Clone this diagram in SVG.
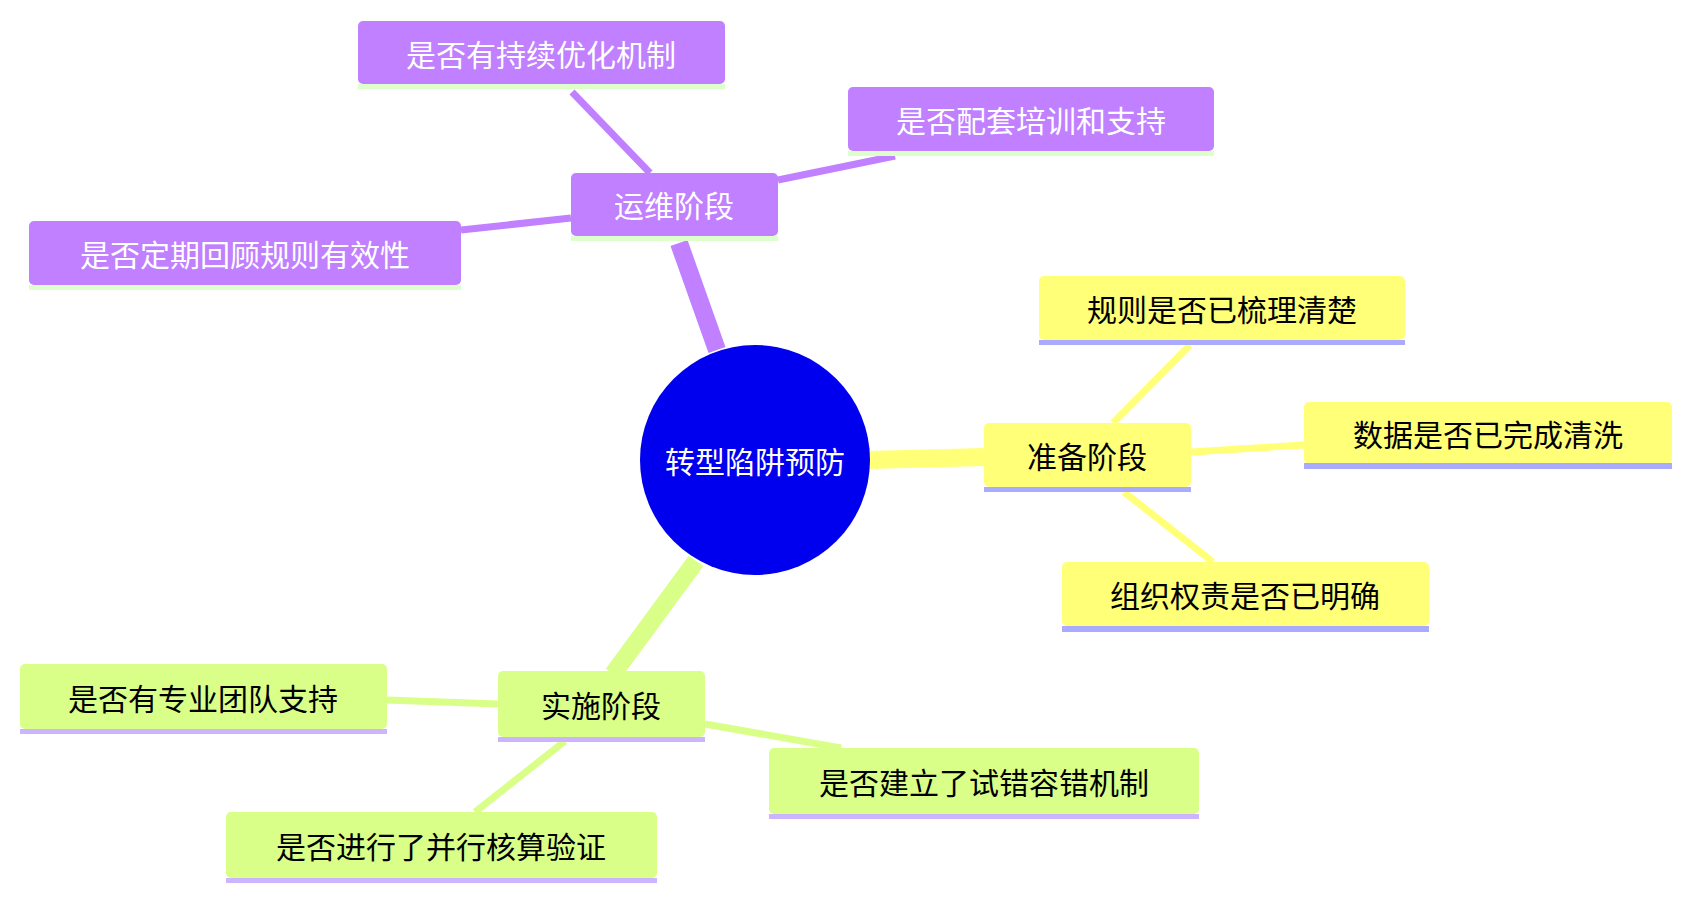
<svg xmlns="http://www.w3.org/2000/svg" width="1691" height="899" viewBox="0 0 1691 899">
<style>
text{font-family:"Noto Sans CJK SC","Noto Sans",sans-serif;font-size:30px;text-anchor:middle;dominant-baseline:central}
.y{fill:#ffff78}.p{fill:#c080ff}.g{fill:#d9ff88}
.uy{fill:#aaaaff}.up{fill:#ddffcc}.ug{fill:#ccb4ff}
.ey{stroke:#ffff78}.ep{stroke:#c080ff}.eg{stroke:#d9ff88}
.tw{fill:#fff}.tb{fill:#000}
</style>
<rect width="1691" height="899" fill="#fff"/>
<g id="connectors" fill="none" stroke-linecap="butt">
<path class="ey" d="M868,460 L984,457" stroke-width="18"/>
<path class="ep" d="M717,350 L679,243" stroke-width="18"/>
<path class="eg" d="M696,561 L613,674" stroke-width="18"/>
<g stroke-width="7">
<path class="ey" d="M1113,423 L1190,345"/>
<path class="ey" d="M1191,452 L1304,445"/>
<path class="ey" d="M1124,492 L1213,562"/>
<path class="ep" d="M650,173 L572,92"/>
<path class="ep" d="M778,180 L895,156"/>
<path class="ep" d="M571,218 L461,230"/>
<path class="eg" d="M498,704 L387,700"/>
<path class="eg" d="M705,724 L841,748"/>
<path class="eg" d="M565,741 L475,812"/>
</g>
</g>
<g id="root"><circle cx="755" cy="460" r="115" fill="#0000ee"/><text x="755" y="460" class="tw">转型陷阱预防</text></g>
<g id="n-prep"><rect class="y" x="984" y="423" width="207" height="64" rx="5"/><rect class="uy" x="984" y="487" width="207" height="5"/><text x="1087" y="455" class="tb">准备阶段</text></g>
<g id="n-rule"><rect class="y" x="1039" y="276" width="366" height="64" rx="5"/><rect class="uy" x="1039" y="340" width="366" height="5"/><text x="1222" y="308" class="tb">规则是否已梳理清楚</text></g>
<g id="n-data"><rect class="y" x="1304" y="402" width="368" height="62" rx="5"/><rect class="uy" x="1304" y="463" width="368" height="6"/><text x="1488" y="433" class="tb">数据是否已完成清洗</text></g>
<g id="n-org"><rect class="y" x="1062" y="562" width="367" height="64" rx="5"/><rect class="uy" x="1062" y="626" width="367" height="6"/><text x="1245" y="594" class="tb">组织权责是否已明确</text></g>
<g id="n-ops"><rect class="p" x="571" y="173" width="207" height="63" rx="5"/><rect class="up" x="571" y="236" width="207" height="5"/><text x="674" y="204" class="tw">运维阶段</text></g>
<g id="n-opt"><rect class="p" x="358" y="21" width="367" height="63" rx="5"/><rect class="up" x="358" y="84" width="367" height="5"/><text x="541" y="53" class="tw">是否有持续优化机制</text></g>
<g id="n-train"><rect class="p" x="848" y="87" width="366" height="64" rx="5"/><rect class="up" x="848" y="151" width="366" height="5"/><text x="1031" y="119" class="tw">是否配套培训和支持</text></g>
<g id="n-review"><rect class="p" x="29" y="221" width="432" height="64" rx="5"/><rect class="up" x="29" y="285" width="432" height="5"/><text x="245" y="253" class="tw">是否定期回顾规则有效性</text></g>
<g id="n-impl"><rect class="g" x="498" y="671" width="207" height="66" rx="5"/><rect class="ug" x="498" y="737" width="207" height="5"/><text x="601" y="704" class="tb">实施阶段</text></g>
<g id="n-team"><rect class="g" x="20" y="664" width="367" height="65" rx="5"/><rect class="ug" x="20" y="729" width="367" height="5"/><text x="203" y="697" class="tb">是否有专业团队支持</text></g>
<g id="n-trial"><rect class="g" x="769" y="748" width="430" height="66" rx="5"/><rect class="ug" x="769" y="814" width="430" height="5"/><text x="984" y="781" class="tb">是否建立了试错容错机制</text></g>
<g id="n-para"><rect class="g" x="226" y="812" width="431" height="66" rx="5"/><rect class="ug" x="226" y="878" width="431" height="5"/><text x="441" y="845" class="tb">是否进行了并行核算验证</text></g>
</svg>
